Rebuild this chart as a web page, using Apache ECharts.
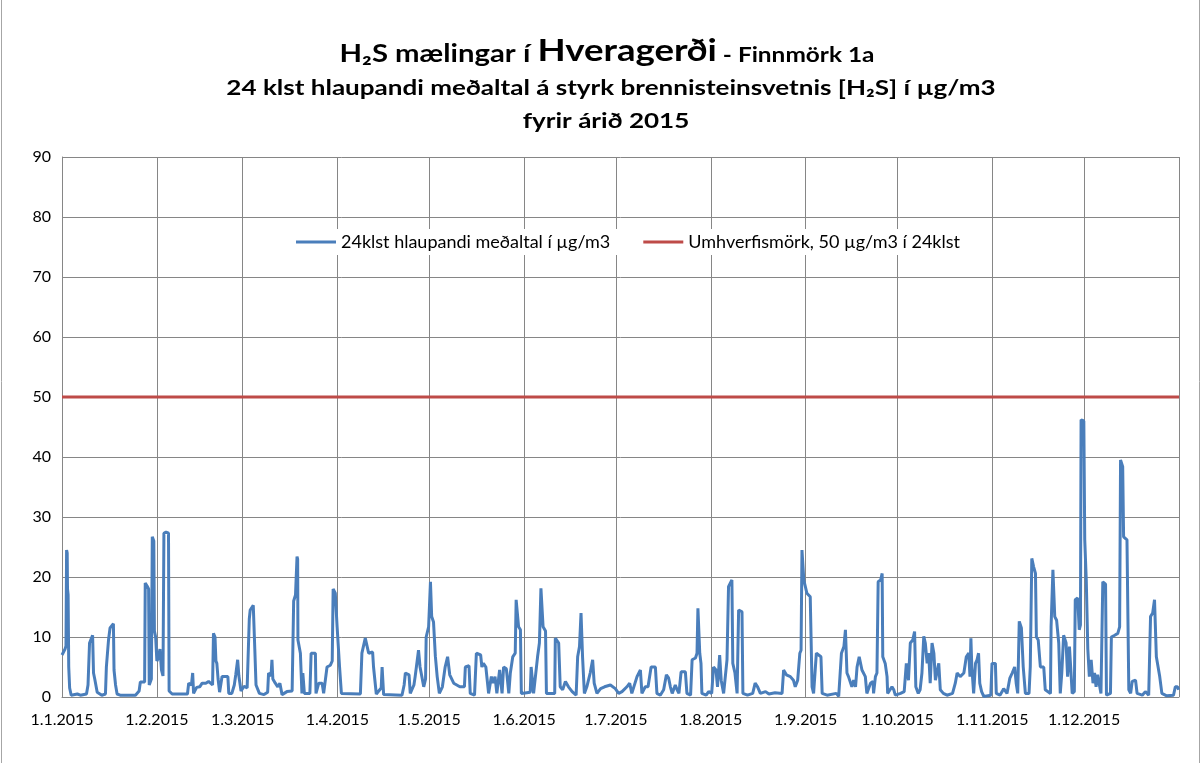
<!DOCTYPE html>
<html>
<head>
<meta charset="utf-8">
<script src="https://cdn.jsdelivr.net/npm/echarts@6/dist/echarts.min.js"></script>
<style>html,body{margin:0;padding:0;background:#fff;}#c{width:1201px;height:763px;}</style>
</head>
<body>
<div id="c"></div>
<script>
// Day-of-year (0 = 1.1.2015) and 24h running mean in µg/m3
const q1 = [[0,7],[0.5,7.5],[1.0,8],[1.3,8.5],[1.5,24.5],[1.7,24],[1.8,18],[2.0,17],[2.2,5],[2.5,1.5],[3,0.3],[5,0.5],[6,0.3],[8,0.5],[8.5,2],[9.0,9],[9.5,9],[10.0,10.3],[10.3,4],[10.7,3],[11.5,0.8],[13,0.3],[14.2,0.5],[14.5,5],[15.2,9.5],[15.7,11.5],[16.8,12.2],[17.0,4.5],[17.5,2],[18,0.5],[19,0.3],[24,0.3],[25.2,1],[25.6,2.5],[27,2.5],[27.2,19],[27.8,18.5],[28.3,18],[28.5,2],[29.2,3],[29.5,26.7],[30,26],[30.2,11],[30.6,10],[31,6],[31.5,6.5],[32,8],[32.5,4.5],[33.0,3.5],[33.3,27.3],[34,27.5],[34.8,27.3],[35,1],[36,0.5],[41,0.5],[41.4,2.3],[42.3,2],[42.7,4],[43.0,0.6],[44,1.6],[45,1.7],[45.8,2.3],[47,2.3],[47.9,2.6],[48.5,2.5],[49.2,2],[49.5,10.6],[50,10],[50.3,6],[50.6,5.6],[51,3],[51.5,0.8],[52.3,3.4],[53,3.4],[54.2,3.4],[54.5,0.6],[55.5,0.6],[56.3,2],[56.8,3.8],[57.4,6.2],[57.8,3.5],[58.5,1],[59.5,1.8],[60.5,1.5],[61.2,13],[61.5,14.5],[62.5,15.3],[63,8],[63.4,2],[64.5,0.6],[66,0.4],[67.2,0.8],[67.5,4],[68.3,3.5],[68.6,6.2],[68.9,3],[69.7,2.3],[70.5,1.7],[71.2,2.3],[71.9,0.4],[73.5,0.9],[75.2,1],[75.7,16],[76.3,17],[76.8,23.4],[77.0,23],[77.1,9.5],[77.9,7.3],[78.4,0.6],[78.7,4],[79.2,0.6],[81,0.6],[81.4,7.3],[82.8,7.3],[83,0.6],[83.9,2.3],[85,2.3],[85.5,0.6],[86.6,5],[87.7,5.3],[88.3,6],[88.6,18],[89.3,17.3],[89.9,11.7]];
const q2 = [[90.7,5],[91.3,0.6],[97.5,0.5],[98.0,7.3],[99.1,9.8],[99.6,9.5],[100.2,7.3],[101.5,7.5],[101.8,5],[102.7,0.5],[103.5,1],[104.3,1.5],[104.6,5],[105.1,0.4],[111.1,0.3],[111.8,2],[112.2,4],[113.4,3.7],[113.8,0.6],[115,2],[115.4,3.4],[116.5,7.8],[117.0,5],[118.2,1.7],[118.8,3],[119.0,10],[119.8,11.7],[120.4,19.2],[120.8,13.4],[121.4,12.5],[122,6.8],[122.6,3.4],[123.3,0.6],[124.3,1.7],[125.2,5],[126,6.7],[126.7,3.7],[128,2.3],[130,1.7],[131.5,1.7],[131.8,5],[133.0,5.2],[133.4,0.6],[134.8,0.3],[135.4,7.3],[136.8,7],[137.2,5],[137.7,5.6],[138.5,5],[139.4,0.6],[140.3,3.4],[140.9,2.3],[141.5,3.4],[142.1,0.6],[143,4.5],[143.8,0.6],[144.3,5],[145.2,4.7],[146,0.6],[146.5,4],[147.3,6.7],[148.1,7.3],[148.4,16.2],[149.2,11.7],[149.8,11.2],[150.1,0.6],[153,0.8],[153.3,5],[154.1,0.6],[155.4,6.7],[156,9],[156.5,18.1],[157.2,11.7],[158,11],[158.3,0.6],[161,0.6],[161.2,9.8],[162.3,9],[162.8,1.7],[163.6,1.2],[164.5,2.6],[165.5,1.7],[166.7,0.9],[168,0.3],[168.5,6.7],[169.1,8.4],[169.6,14],[170.1,6.7],[170.7,0.6],[171.5,1.7],[172.6,4],[173.4,6.2],[173.9,2.3],[174.8,0.6],[176,1.4],[177.3,1.7],[179.2,2],[180.8,1.4]];
const q3 = [[181.9,0.6],[183,0.9],[184.6,1.7],[185.5,2.3],[186.2,0.6],[187.9,3.4],[189,4.5],[189.5,0.6],[190.6,1.7],[191.5,1.7],[192.5,5],[193.9,5],[194.4,0.6],[195.5,0.3],[196.6,1.2],[197.5,3.7],[198.2,3.2],[198.8,1.7],[199.4,0.6],[200.4,2],[201,1.2],[201.6,0.6],[202.3,4.2],[203.7,4.2],[204.2,0.6],[205.4,0.3],[205.9,6.2],[207,6.5],[207.5,7.3],[207.8,14.8],[208.4,7.3],[208.8,5.6],[209.1,0.6],[210.5,0.3],[211.3,0.9],[212.3,0.6],[212.9,5],[213.7,4.5],[214.2,1.7],[214.9,7],[215.4,2.8],[216.2,0.6],[217.3,6.2],[217.8,18.4],[218.4,18.7],[218.9,19.5],[219.2,5.6],[219.9,4],[220.6,0.6],[221.1,14.5],[222.2,14.2],[222.5,0.6],[224,0.3],[225.7,0.6],[226.5,2.3],[227.3,1.7],[228.2,0.6],[229.9,0.9],[231,0.5],[233,0.7],[235.3,0.6],[235.8,4.5],[236.7,3.7],[238,3.4],[239,2.8],[239.6,1.7],[240.4,2.8],[241.1,7.3],[241.5,7.8],[241.8,24.5],[242.4,19.5],[243,19.5],[243.4,17.3],[244.5,16.7],[245.1,1.7],[245.6,0.6],[246.5,7.3],[248,6.7],[248.4,0.6],[250,0.3],[253,0.6],[253.8,0.1],[254.7,7.3],[255.5,8.4],[256,11.2],[256.5,4],[257,3.4],[258.1,1.7],[258.7,2.8],[259.3,1.7],[259.8,5],[260.5,6.7],[261.4,4.5],[262.5,3.4],[263,0.6],[264.2,2.3],[265,2.6],[265.2,0.6],[265.8,3.4],[266.3,4],[266.7,19.2],[267.5,19.5],[268,20.6],[268.2,6.7],[269,5.6],[269.6,3.4],[269.8,0.6],[271.2,1.7],[271.8,1.2],[272.3,0.3]];
const q4 = [[274,0.6],[275.2,0.9],[275.9,5.6],[276.6,2.8],[277.2,9],[278,9.5],[278.6,10.9],[279,1.7],[279.8,0.6],[280.4,1.2],[281,4],[281.6,10.1],[282.1,9],[282.7,5.6],[283.2,7.3],[283.7,2.3],[284.3,9],[284.9,7.3],[285.4,2.8],[286.5,5.6],[287,1.2],[288,0.6],[289.2,0.3],[291,0.6],[291.9,2.3],[292.5,4],[293.5,3.4],[294.7,4],[295.5,6.7],[296.3,7.3],[296.7,3.4],[297,9.8],[297.3,5],[297.9,0.6],[298.5,5.6],[299,6.2],[299.5,7.3],[299.9,2.3],[300.5,0.9],[301.2,0.1],[303.5,0.3],[303.9,5.6],[305,5.6],[305.3,0.6],[306.5,0.3],[307.2,0.9],[307.7,1.4],[308.8,0.6],[309.7,3.1],[310.5,4],[311.3,5],[311.8,2.3],[312.3,0.6],[312.8,12.6],[313.5,11.5],[314.1,5],[314.8,0.6],[316,0.6],[316.4,5],[316.9,23.1],[317.5,21.7],[318.1,20.6],[318.4,10],[319,9.5],[319.7,5],[320.8,5],[321.3,1.2],[323,0.6],[323.2,11.7],[323.8,21.2],[324.4,13.4],[325,12.8],[325.7,9],[326.2,0.6],[326.7,4],[327.3,10.3],[328.1,9],[328.6,3.4],[329.2,8.4],[329.6,5],[330.1,0.6],[330.8,0.9],[331.1,16.2],[331.9,16.5],[332.4,11.2],[332.8,12],[333,46.2],[333.9,46],[334.2,26.2],[334.4,26.2],[334.7,19.5],[335.2,8],[335.7,3.4],[336.3,6.2],[336.9,2.3],[337.4,4],[337.9,1.7],[338.4,3.7],[339,4],[339.5,0.6],[340.1,19.2],[341,18.8],[341.3,0.3],[342.6,0.6],[342.9,10],[344,10.3],[345,10.6],[345.6,11.7],[345.9,39.5],[346.6,38.4],[346.9,26.7],[348,26.2],[348.6,1.2],[349.2,0.6],[349.7,2.6],[350.8,2.8],[351.3,0.6],[353,0.3],[354,0.9],[355.1,0.3],[355.7,13.4],[356.4,14],[357,16.2],[357.6,6.7],[358.2,6.4],[358.7,3.4],[359.4,0.6],[361,0.2],[363.2,0.3],[363.8,1.7],[364.5,1.7],[364.9,1.2]];
const limitValue = 50;
const seriesNames = ['24klst hlaupandi meðaltal í µg/m3', 'Umhverfismörk, 50 µg/m3 í 24klst'];
const yTicks = [0, 10, 20, 30, 40, 50, 60, 70, 80, 90];

const DAY = 86400000;
const T0 = Date.UTC(2015, 0, 1);
const T1 = Date.UTC(2016, 0, 1);
const toPoint = p => [T0 + p[0] * DAY, p[1]];
const runMean = [].concat(q1, q2, q3, q4).map(toPoint);
const limitLine = [[T0, limitValue], [T1, limitValue]];

const FONT = 'Lato, "Open Sans", sans-serif';
const chart = echarts.init(document.getElementById('c'));
chart.setOption({
  useUTC: true,
  animation: false,
  backgroundColor: '#fff',
  graphic: [
    { type: 'line', shape: { x1: 1.5, y1: 0, x2: 1.5, y2: 763 }, style: { stroke: '#a6a6a6', lineWidth: 1 } },
    { type: 'line', shape: { x1: 1199.5, y1: 0, x2: 1199.5, y2: 763 }, style: { stroke: '#a6a6a6', lineWidth: 1 } },
    { type: 'text', x: 607, y: 49, scaleX: 1.22, style: {
        text: '{a|H₂S mælingar í }{b|Hveragerði}{c| - Finnmörk 1a}',
        align: 'center', verticalAlign: 'middle',
        rich: {
          a: { fontFamily: FONT, fontWeight: 'bold', fontSize: 24, fill: '#000', verticalAlign: 'bottom', lineHeight: 32 },
          b: { fontFamily: FONT, fontWeight: 'bold', fontSize: 30, fill: '#000', verticalAlign: 'bottom', lineHeight: 34 },
          c: { fontFamily: FONT, fontWeight: 'bold', fontSize: 20, fill: '#000', verticalAlign: 'bottom', lineHeight: 29 }
        } } },
    { type: 'text', x: 611, y: 88, scaleX: 1.24, style: { text: '24 klst hlaupandi meðaltal á styrk brennisteinsvetnis [H₂S] í µg/m3', align: 'center', verticalAlign: 'middle', fontFamily: FONT, fontWeight: 'bold', fontSize: 21, fill: '#000' } },
    { type: 'text', x: 606, y: 121, scaleX: 1.24, style: { text: 'fyrir árið 2015', align: 'center', verticalAlign: 'middle', fontFamily: FONT, fontWeight: 'bold', fontSize: 21, fill: '#000' } }
  ],
  grid: { left: 62, right: 22, top: 157, bottom: 66, containLabel: false },
  legend: {
    left: 292, top: 229,
    data: seriesNames,
    icon: 'rect', itemWidth: 40, itemHeight: 3, itemGap: 33,
    padding: [4, 4],
    backgroundColor: '#fff',
    textStyle: { fontFamily: FONT, fontSize: 18, color: '#000' }
  },
  xAxis: {
    type: 'time', min: T0, max: T1, splitNumber: 12,
    minInterval: 28 * DAY, maxInterval: 31 * DAY,
    axisLine: { lineStyle: { color: '#868686', width: 1 } },
    axisTick: { show: false },
    splitLine: { show: true, lineStyle: { color: '#868686', width: 1 } },
    axisLabel: {
      showMaxLabel: false, showMinLabel: true, margin: 15,
      fontFamily: FONT, fontSize: 16, color: '#000',
      formatter: v => { const d = new Date(v); return d.getUTCDate() + '.' + (d.getUTCMonth() + 1) + '.' + d.getUTCFullYear(); }
    }
  },
  yAxis: {
    type: 'value', min: yTicks[0], max: yTicks[yTicks.length - 1], interval: 10,
    axisLine: { show: true, lineStyle: { color: '#868686', width: 1 } },
    axisTick: { show: false },
    splitLine: { lineStyle: { color: '#868686', width: 1 } },
    axisLabel: { fontFamily: FONT, fontSize: 16, color: '#000', margin: 11 }
  },
  series: [
    { name: seriesNames[0], type: 'line', data: runMean, showSymbol: false, symbol: 'none',
      lineStyle: { color: '#4a7ebb', width: 3 }, itemStyle: { color: '#4a7ebb' }, z: 3 },
    { name: seriesNames[1], type: 'line', data: limitLine, showSymbol: false, symbol: 'none',
      lineStyle: { color: '#be4b48', width: 3 }, itemStyle: { color: '#be4b48' }, z: 2 }
  ]
});
</script>
</body>
</html>
